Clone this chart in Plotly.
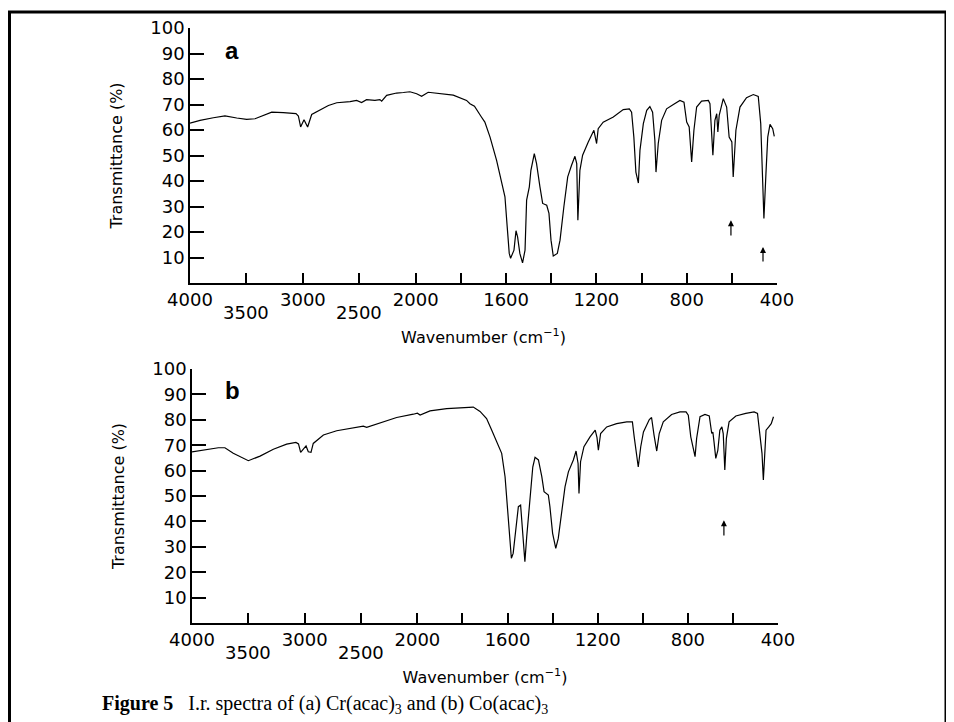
import numpy as np
import plotly.graph_objects as go

# ---------------- data ----------------
wn_a = [4000, 3911, 3793, 3690, 3586, 3498, 3424, 3350, 3276, 3173, 3061, 3040, 3020, 2990, 2958,
        2922, 2848, 2774, 2700, 2582, 2524, 2480, 2436, 2362, 2318, 2302, 2258, 2170, 2110, 2052,
        1996, 1974, 1945, 1893, 1834, 1775, 1760, 1740, 1725, 1710, 1694, 1671, 1642, 1620, 1605,
        1595, 1586, 1580, 1565, 1556, 1549, 1539, 1527, 1516, 1509, 1497, 1490, 1475, 1465, 1450,
        1438, 1420, 1410, 1401, 1391, 1373, 1361, 1344, 1327, 1310, 1295, 1287, 1282, 1273, 1261,
        1236, 1211, 1199, 1192, 1170, 1125, 1081, 1054, 1044, 1034, 1025, 1014, 1007, 992, 977,
        963, 951, 941, 936, 926, 911, 889, 859, 830, 812, 800, 789, 778, 768, 756,
        734, 704, 697, 684, 675, 667, 662, 656, 638, 623, 612, 600, 594, 582, 564,
        535, 505, 483, 472, 466, 458, 449, 441, 431, 419, 412]
t_a = [62.7, 63.8, 64.8, 65.5, 64.7, 64.2, 64.4, 65.7, 67.0, 66.8, 66.4, 65.5, 61.2, 64.0, 61.2,
       66.1, 68.0, 69.6, 70.7, 71.1, 71.6, 70.8, 71.9, 71.6, 71.9, 71.3, 73.6, 74.5, 74.7, 75.0,
       74.2, 73.2, 74.8, 74.2, 73.7, 71.6, 70.3, 69.3, 67.0, 65.2, 63.1, 57.2, 48.1, 40.3, 33.8,
       22.0, 11.6, 9.7, 12.9, 20.5, 18.1, 11.6, 7.9, 12.9, 32.5, 37.7, 44.2, 50.7, 46.8, 37.7,
       31.2, 30.5, 27.3, 16.8, 10.6, 11.6, 16.8, 29.9, 41.6, 46.2, 49.7, 46.8, 24.6, 44.2, 50.1,
       55.3, 59.9, 54.7, 60.5, 63.1, 65.1, 68.0, 68.3, 67.0, 57.2, 43.5, 39.2, 52.0, 62.5, 67.7,
       69.2, 67.0, 56.0, 43.5, 54.7, 63.8, 68.3, 70.0, 71.6, 70.9, 63.1, 61.2, 47.5, 59.9, 69.0,
       71.3, 71.6, 70.3, 50.1, 63.8, 66.4, 59.2, 65.7, 72.3, 69.0, 57.2, 55.3, 41.6, 59.9, 69.0,
       72.7, 73.9, 73.2, 62.5, 45.5, 25.3, 42.9, 57.2, 62.2, 60.5, 57.5]

wn_b = [4000, 3870, 3766, 3708, 3634, 3500, 3396, 3278, 3160, 3078, 3055, 3036, 3012, 2988, 2968,
        2944, 2924, 2834, 2716, 2568, 2480, 2450, 2332, 2184, 2036, 2000, 1988, 1944, 1870, 1781,
        1752, 1722, 1693, 1670, 1648, 1626, 1611, 1601, 1592, 1583, 1575, 1563, 1552, 1542, 1533,
        1523, 1515, 1503, 1488, 1478, 1463, 1448, 1438, 1419, 1412, 1400, 1386, 1375, 1360, 1345,
        1330, 1308, 1296, 1287, 1283, 1276, 1261, 1234, 1211, 1203, 1197, 1187, 1160, 1116, 1071,
        1046, 1038, 1030, 1020, 1009, 997, 971, 961, 950, 938, 927, 909, 872, 835, 808,
        798, 787, 779, 768, 761, 746, 724, 705, 694, 689, 684, 676, 667, 658, 649,
        643, 636, 629, 617, 587, 543, 506, 491, 479, 471, 465, 459, 453, 441, 430, 420]
t_b = [67.4, 68.4, 69.0, 69.0, 66.8, 63.9, 65.7, 68.4, 70.4, 71.1, 70.5, 67.2, 68.4, 69.7, 67.4,
       67.2, 70.7, 74.0, 75.7, 77.0, 77.5, 77.0, 78.8, 80.9, 82.2, 82.6, 81.9, 83.5, 84.4, 85.0,
       85.0, 83.3, 80.5, 75.9, 71.4, 66.8, 57.6, 45.8, 32.7, 25.5, 27.4, 37.9, 45.8, 46.4, 36.6,
       24.1, 33.9, 47.1, 61.4, 65.2, 64.2, 57.6, 51.7, 50.4, 45.8, 35.3, 29.4, 33.3, 43.2, 53.6,
       59.5, 64.2, 67.7, 62.8, 51.0, 63.5, 69.4, 73.3, 75.9, 73.0, 68.0, 74.6, 77.2, 78.5, 79.2,
       79.2, 73.3, 66.8, 61.4, 69.4, 75.2, 80.1, 80.9, 74.0, 67.7, 74.6, 79.2, 82.1, 83.1, 83.1,
       81.8, 73.3, 70.1, 65.5, 72.7, 81.2, 82.1, 81.5, 74.6, 75.2, 71.4, 64.8, 68.0, 75.9, 77.2,
       74.6, 60.2, 72.7, 79.2, 81.5, 82.5, 83.1, 82.5, 73.3, 66.8, 56.3, 68.0, 75.9, 77.2, 78.5, 81.2]

x_major_wn = [4000, 3000, 2000, 1600, 1200, 800, 400]
x_major_text = ["4000", "3000", "2000", "1600", "1200", "800", "400"]
x_minor_wn = [3500, 2500, 1800, 1400, 1000, 600]
x_second_row_wn = [3500, 2500]
x_second_row_text = ["3500", "2500"]
y_tick_vals = [10, 20, 30, 40, 50, 60, 70, 80, 90, 100]
y_tick_text = ["10", "20", "30", "40", "50", "60", "70", "80", "90", "100"]

# arrows marking bands: (wavenumber, head T, tail T)
arrows_a = [(604, 24.6, 18.0), (462, 14.1, 7.8)]
arrows_b = [(640, 40.5, 33.9)]


def to_u(wn):
    """Grating-change scale: 4000-2000 at half the scale of 2000-400."""
    wn = np.asarray(wn, dtype=float)
    return np.where(wn >= 2000, (4000 - wn) / 2.0, 1000 + (2000 - wn))


W, H = 954, 722
OFF = 8  # page body margin offset
FONT = "DejaVu Sans"


def px(v):
    return (v - OFF) / W


def py(v):
    return 1 - (v - OFF) / H


fig = go.Figure()
fig.add_trace(go.Scatter(x=to_u(wn_a), y=t_a, mode="lines", line=dict(color="black", width=1.2),
                         xaxis="x", yaxis="y", showlegend=False, hoverinfo="skip"))
fig.add_trace(go.Scatter(x=to_u(wn_b), y=t_b, mode="lines", line=dict(color="black", width=1.2),
                         xaxis="x2", yaxis="y2", showlegend=False, hoverinfo="skip"))

common_x = dict(range=[0, 2600], tickmode="array", tickvals=list(to_u(x_major_wn)), ticktext=x_major_text,
                ticks="inside", ticklen=10, tickwidth=1.5, tickcolor="black",
                minor=dict(tickmode="array", tickvals=list(to_u(x_minor_wn)), ticks="inside", ticklen=10,
                           tickwidth=1.5, tickcolor="black", showgrid=False),
                showline=True, linecolor="black", linewidth=1.5, showgrid=False, zeroline=False,
                tickfont=dict(family=FONT, size=18, color="black"), automargin=False,
                title=dict(text="Wavenumber (cm<sup>−1</sup>)", font=dict(family=FONT, size=16, color="black"),
                           standoff=22))
common_y = dict(range=[0, 100], tickmode="array", tickvals=y_tick_vals, ticktext=y_tick_text,
                ticks="inside", ticklen=14, tickwidth=1.5, tickcolor="black",
                showline=True, linecolor="black", linewidth=1.5, showgrid=False, zeroline=False,
                tickfont=dict(family=FONT, size=18, color="black"), automargin=False,
                title=dict(text="Transmittance (%)", font=dict(family=FONT, size=16, color="black"),
                           standoff=24))

fig.update_layout(
    width=W, height=H, margin=dict(l=0, r=0, t=0, b=0),
    paper_bgcolor="white", plot_bgcolor="white",
    xaxis=dict(domain=[px(190), px(777)], anchor="y", **common_x),
    yaxis=dict(domain=[py(283), py(28)], anchor="x", **common_y),
    xaxis2=dict(domain=[px(192), px(778)], anchor="y2", **common_x),
    yaxis2=dict(domain=[py(623), py(369)], anchor="x2", **common_y),
)

annotations = []
for (xr, yr, arrs) in (("x", "y", arrows_a), ("x2", "y2", arrows_b)):
    for wn, head, tail in arrs:
        annotations.append(dict(x=float(to_u(wn)), y=head, xref=xr, yref=yr, ax=float(to_u(wn)), ay=tail,
                                axref=xr, ayref=yr, text="", showarrow=True, arrowhead=2, arrowsize=1,
                                arrowwidth=1.2, arrowcolor="black"))

# second row of staggered tick labels
for xr, yrow in (("x", 312), ("x2", 652)):
    for wn, txt in zip(x_second_row_wn, x_second_row_text):
        annotations.append(dict(x=float(to_u(wn)), xref=xr, y=py(yrow), yref="paper", text=txt,
                                showarrow=False, xanchor="center", yanchor="middle",
                                font=dict(family=FONT, size=18, color="black")))

annotations.append(dict(x=px(232), y=py(50), xref="paper", yref="paper", text="<b>a</b>",
                        xanchor="center", yanchor="middle",
                        showarrow=False, font=dict(family="Liberation Sans", size=24, color="black")))
annotations.append(dict(x=px(232), y=py(390), xref="paper", yref="paper", text="<b>b</b>",
                        xanchor="center", yanchor="middle",
                        showarrow=False, font=dict(family="Liberation Sans", size=24, color="black")))
annotations.append(dict(x=px(100), y=py(704), xref="paper", yref="paper", xanchor="left", yanchor="middle",
                        text="<b>Figure 5</b>   I.r. spectra of (a) Cr(acac)<sub>3</sub> and (b) Co(acac)<sub>3</sub>",
                        showarrow=False, font=dict(family="Liberation Serif", size=20, color="black")))
fig.update_layout(annotations=annotations)

fig.add_shape(type="rect", xref="paper", yref="paper", x0=1.5 / W, x1=px(946), y0=-0.05, y1=py(12),
              line=dict(color="black", width=3), fillcolor="rgba(0,0,0,0)")

fig.write_html("out.html")
